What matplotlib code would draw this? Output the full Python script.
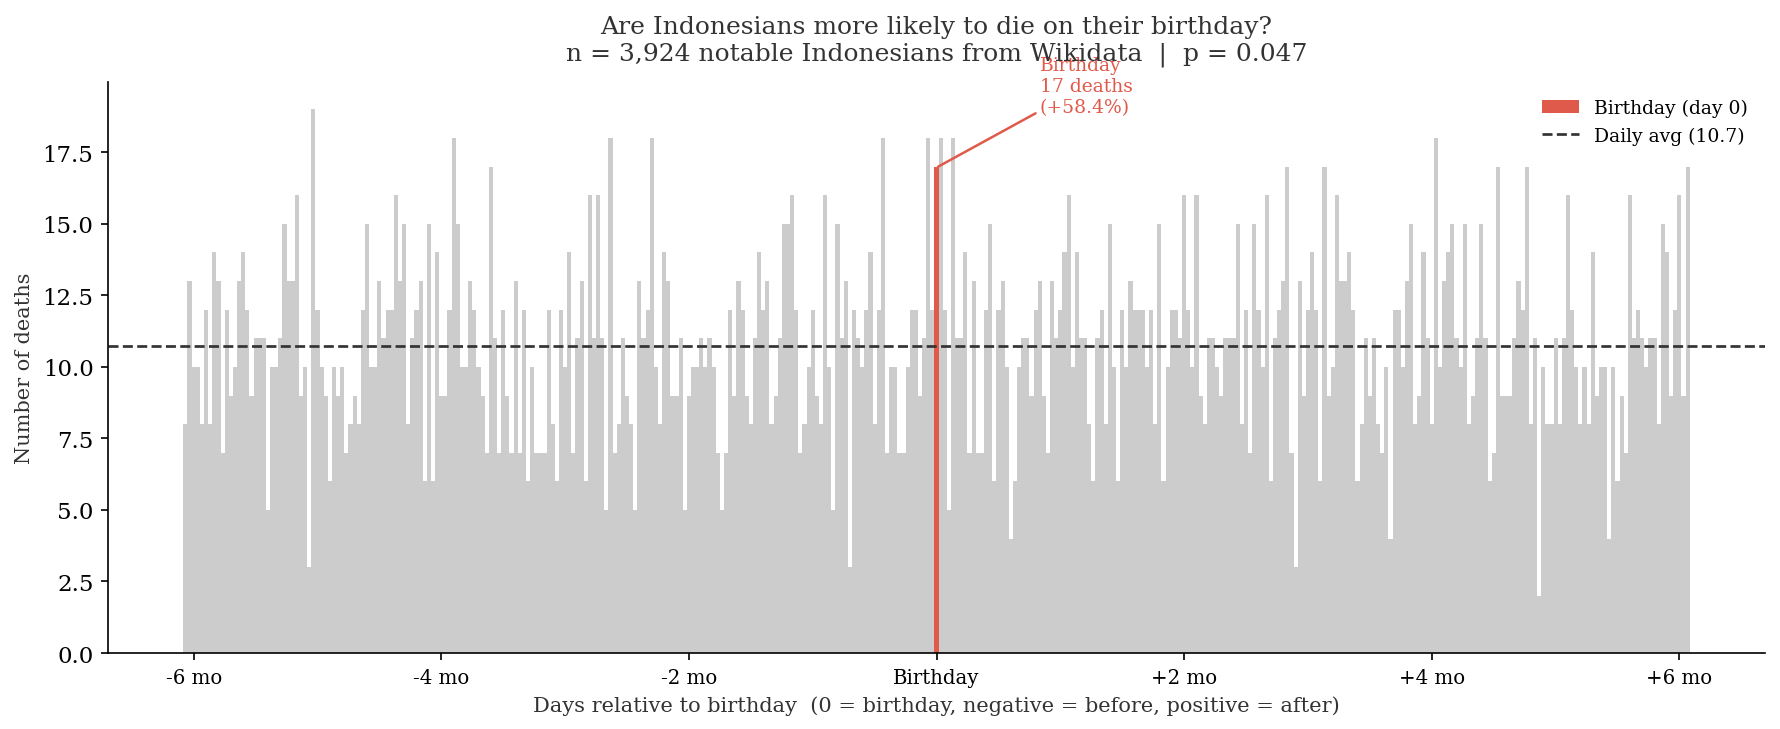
#!/usr/bin/env python3
"""Deaths relative to birthday for notable Indonesians (Wikidata)."""
import numpy as np
import matplotlib
matplotlib.use("Agg")
import matplotlib.pyplot as plt
from matplotlib.patches import Patch
from matplotlib.lines import Line2D

plt.rcParams["font.family"] = ["DejaVu Serif"]

# deaths per day, day -182 .. +182 (day 0 = birthday)
days = np.arange(-182, 183)
deaths = [
    # -182 .. -151
    8, 13, 10, 10, 8, 12, 8, 14, 13, 7, 12, 9, 10, 13, 14, 12, 9, 11, 11, 11,
    5, 10, 10, 11, 15, 13, 13, 16, 9, 10, 3, 19,
    # -150 .. -117
    12, 10, 9, 6, 10, 9, 10, 7, 8, 9, 8, 12, 15, 10, 10, 13, 11, 12, 12, 16,
    13, 15, 8, 11, 12, 13, 6, 15, 6, 14, 9, 9, 12, 18,
    # -116 .. -83
    15, 10, 10, 13, 12, 10, 9, 7, 17, 11, 7, 12, 9, 7, 13, 7, 12, 6, 10, 7,
    7, 7, 12, 8, 6, 12, 10, 14, 7, 11, 13, 6, 16, 11,
    # -82 .. -49
    16, 11, 5, 18, 7, 8, 11, 9, 8, 5, 13, 11, 12, 18, 10, 8, 14, 13, 9, 9,
    11, 5, 9, 10, 10, 11, 10, 11, 10, 7, 5, 7, 12, 9,
    # -48 .. -15
    13, 12, 9, 8, 11, 14, 12, 13, 8, 9, 11, 15, 15, 16, 12, 7, 8, 10, 12, 9,
    8, 16, 10, 5, 15, 11, 13, 3, 12, 11, 10, 12, 14, 8,
    # -14 .. 19
    12, 18, 7, 10, 10, 7, 7, 10, 12, 12, 9, 11, 18, 12, 17, 18, 12, 5, 18, 11,
    11, 14, 7, 13, 7, 7, 12, 15, 6, 12, 13, 10, 4, 6,
    # 20 .. 53
    10, 11, 11, 9, 12, 13, 9, 7, 13, 11, 12, 14, 16, 10, 14, 11, 11, 8, 6, 11,
    12, 8, 15, 10, 6, 12, 10, 13, 12, 12, 12, 10, 12, 8,
    # 54 .. 87
    15, 6, 10, 12, 12, 11, 16, 12, 10, 16, 9, 8, 11, 11, 10, 9, 11, 11, 11, 15,
    8, 12, 7, 15, 12, 10, 16, 6, 11, 12, 13, 17, 7, 3,
    # 88 .. 121
    13, 9, 12, 14, 12, 6, 17, 9, 10, 16, 13, 13, 14, 12, 6, 8, 11, 9, 11, 8,
    7, 10, 4, 12, 12, 10, 13, 15, 8, 9, 14, 11, 8, 18,
    # 122 .. 154
    10, 13, 14, 15, 11, 10, 15, 8, 9, 11, 15, 11, 6, 7, 17, 9, 9, 9, 11, 13,
    12, 17, 8, 11, 2, 10, 8, 8, 11, 8, 11, 16, 12,
    # 155 .. 182
    10, 8, 10, 8, 14, 9, 10, 10, 4, 10, 6, 9, 7, 16, 11, 12, 11, 10, 11, 11,
    8, 15, 14, 9, 12, 16, 9, 17,
]
deaths = np.array(deaths)

tick_days = [-180, -120, -60, 0, 60, 120, 180]
tick_labels = ["-6 mo", "-4 mo", "-2 mo", "Birthday", "+2 mo", "+4 mo", "+6 mo"]

n_total = 3924
p_value = 0.047
bday = deaths[days == 0][0]
daily_avg = deaths[days != 0].mean()
pct = (bday / daily_avg - 1) * 100

RED = "#e05a4b"
GREY = "#cccccc"
DARK = "#333333"

fig = plt.figure(figsize=(1780 / 150, 730 / 150), dpi=150)
ax = fig.add_axes([0.0607, 0.1041, 0.9309, 0.7819])

others = days != 0
ax.bar(days[others], deaths[others], width=1.0, color=GREY, linewidth=0)
ax.bar([0], [bday], width=1.0, color=RED, linewidth=0)
ax.axhline(daily_avg, color=DARK, linestyle="--", linewidth=1.3)

ax.annotate(f"Birthday\n{bday} deaths\n(+{pct:.1f}%)",
            xy=(0.4, bday), xytext=(25, 18.78),
            ha="left", va="bottom", color=RED, fontsize=9,
            linespacing=1.22,
            arrowprops=dict(arrowstyle="-", color=RED, lw=1.2,
                            shrinkA=0, shrinkB=0),
            annotation_clip=False)

ax.set_xticks(tick_days)
ax.set_xticklabels(tick_labels, fontsize=9.5)
ax.tick_params(axis="y", labelsize=11)
ax.set_xlabel("Days relative to birthday  (0 = birthday, negative = before, positive = after)",
              fontsize=10, color=DARK)
ax.set_ylabel("Number of deaths", fontsize=10, color=DARK)
ax.set_title("Are Indonesians more likely to die on their birthday?\n"
             f"n = {n_total:,} notable Indonesians from Wikidata  |  p = {p_value}",
             fontsize=12, color=DARK, pad=11)

ax.spines["top"].set_visible(False)
ax.spines["right"].set_visible(False)

handles = [Patch(facecolor=RED, label="Birthday (day 0)"),
           Line2D([0], [0], color=DARK, linestyle="--", lw=1.3,
                  label=f"Daily avg ({daily_avg:.1f})")]
ax.legend(handles=handles, loc="upper right", frameon=False, fontsize=9)

fig.savefig("out.png", dpi=150)
